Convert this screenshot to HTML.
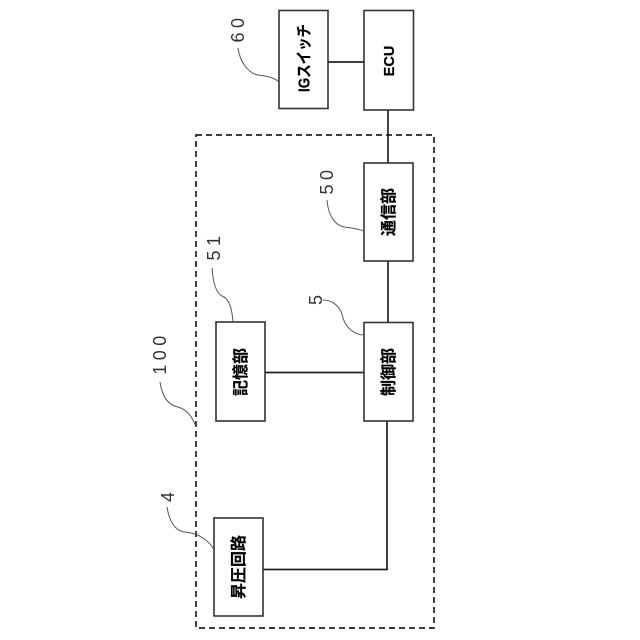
<!DOCTYPE html>
<html>
<head>
<meta charset="utf-8">
<style>
html,body{margin:0;padding:0;background:#fff;}
svg{display:block;}
.b{font-family:"Liberation Sans","Noto Sans CJK JP",sans-serif;font-weight:700;font-size:16px;fill:#000;stroke:#000;stroke-width:.2px;text-anchor:middle;dominant-baseline:central;}
.n{font-family:"Liberation Sans","Noto Sans CJK JP",sans-serif;font-size:18px;fill:#333;text-anchor:middle;dominant-baseline:central;letter-spacing:4.500px;}
</style>
</head>
<body>
<svg width="640" height="640" viewBox="0 0 640 640" xmlns="http://www.w3.org/2000/svg">
<rect x="196" y="135" width="238" height="493" fill="none" stroke="#222" stroke-width="1.700" stroke-dasharray="6 4"/>
<g fill="none" stroke="#222" stroke-width="1.700">
<path d="M328 62H364"/>
<path d="M388 110V163"/>
<path d="M388 261V322"/>
<path d="M265 372.500H364"/>
<path d="M387 421V569.500H263"/>
</g>
<g fill="#fff" stroke="#333" stroke-width="1.600">
<rect x="279" y="10.500" width="49" height="98"/>
<rect x="364" y="10.500" width="49.500" height="99.500"/>
<rect x="364" y="163" width="49" height="98"/>
<rect x="364" y="322.500" width="49" height="98.500"/>
<rect x="216" y="322" width="49" height="99"/>
<rect x="214" y="518" width="49" height="98"/>
</g>
<g fill="none" stroke="#555" stroke-width="1">
<path d="M238 48C240 62 248 73 258 75C268 76 275 78 279 82"/>
<path d="M327 200C328 214 334 225 344 227C352 228 359 229 364 231"/>
<path d="M212 268C213 282 216 293 222 296C230 299 232 310 233 322"/>
<path d="M323 300C333 300 341 307 343 318C346 328 355 335 364 335"/>
<path d="M160 382C162 396 168 405 178 407C188 410 193 418 196 427"/>
<path d="M167 507C169 520 174 530 184 532C200 533 210 542 214 550"/>
</g>
<text class="b" transform="translate(305 58) rotate(-90)" textLength="68" lengthAdjust="spacingAndGlyphs">IGスイッチ</text>
<text class="b" style="font-size:14.500px" transform="translate(390 61) rotate(-90)">ECU</text>
<text class="b" transform="translate(389.500 212) rotate(-90)">通信部</text>
<text class="b" transform="translate(389.500 372) rotate(-90)">制御部</text>
<text class="b" transform="translate(241.500 372) rotate(-90)">記憶部</text>
<text class="b" transform="translate(239.500 567) rotate(-90)">昇圧回路</text>
<text class="n" transform="translate(238 28) rotate(-90)">60</text>
<text class="n" transform="translate(327 180) rotate(-90)">50</text>
<text class="n" transform="translate(214 246) rotate(-90)">51</text>
<text class="n" style="letter-spacing:0" transform="translate(316 300) rotate(-90)">5</text>
<text class="n" transform="translate(160 353) rotate(-90)">100</text>
<text class="n" style="letter-spacing:0" transform="translate(168 497) rotate(-90)">4</text>
</svg>
</body>
</html>
